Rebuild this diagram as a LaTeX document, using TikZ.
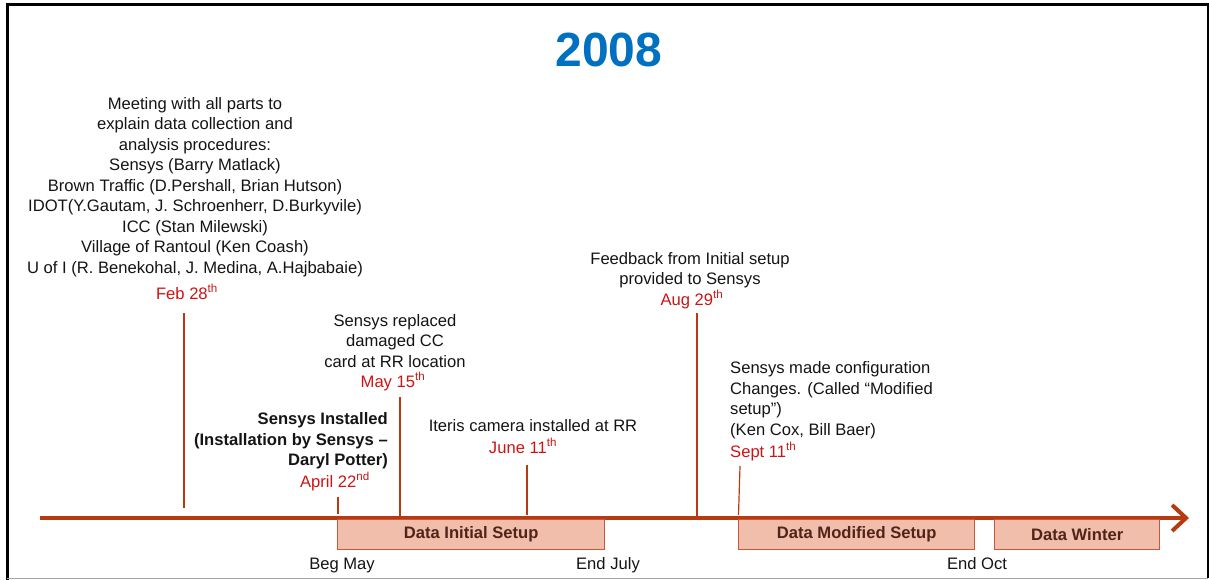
\documentclass[tikz,border=0pt]{standalone}
\usepackage{fontspec}
\setmainfont{Liberation Sans}
\usetikzlibrary{arrows.meta}
\definecolor{axiscol}{RGB}{184,58,16}
\definecolor{datered}{RGB}{204,20,20}
\definecolor{boxfill}{RGB}{242,190,172}
\definecolor{boxdraw}{RGB}{196,88,58}
\definecolor{boxtext}{RGB}{80,36,24}
\definecolor{titleblue}{RGB}{0,112,192}
\definecolor{txt}{RGB}{20,20,20}
\tikzset{
  body/.style={font=\fontsize{16.6}{20.5}\selectfont, text=txt, inner sep=0pt},
  datelbl/.style={font=\fontsize{16.6}{20.5}\selectfont, text=datered, inner sep=0pt},
  tickline/.style={draw=axiscol, line width=1.8pt},
  axisline/.style={draw=axiscol, line width=4pt},
  databox/.style={draw=boxdraw, fill=boxfill, line width=1.3pt, text=boxtext,
    font=\fontsize{16.6}{18}\selectfont\bfseries, minimum height=30pt, anchor=north west, inner sep=0pt},
}
\begin{document}
\begin{tikzpicture}[x=1pt,y=-1pt]
\useasboundingbox (0,0) rectangle (1209,580);
% frame
\draw[line width=3pt] (7,5) -- (7,580);
\draw[line width=3pt] (5.5,5) -- (1209,5);
\draw[line width=1.5pt] (1208,5) -- (1208,578);
\draw[gray!70, line width=1.5pt] (7,578.5) -- (1208,578.5);
% title
\node[font=\fontsize{48}{52}\selectfont\bfseries, text=titleblue, inner sep=0pt] (title) at (609,50) {2008};
% axis
\coordinate (axL) at (40,518);
\coordinate (axR) at (1189,518);
\draw[axisline, -{Straight Barb[length=14pt,width=26pt,line width=4pt]}] (axL) -- (axR);
% data boxes
\node[databox, minimum width=267pt] (b1) at (337,519) {Data Initial Setup};
\node[databox, minimum width=236pt] (b2) at (738,519) {Data Modified Setup};
\node[databox, minimum width=165pt] (b3) at (994,519) {Data Winter};
% bottom labels
\node[body, anchor=base] (begmay) at (342,569) {Beg May};
\node[body, anchor=base] (endjuly) at (608,569) {End July};
\node[body, anchor=base] (endoct) at (977,569) {End Oct};
% Feb 28
\node[body, align=center] (meet) at (195,187) {Meeting with all parts to\\explain data collection and\\analysis procedures:\\Sensys (Barry Matlack)\\Brown Traffic (D.Pershall, Brian Hutson)\\IDOT(Y.Gautam, J. Schroenherr,  D.Burkyvile)\\ICC (Stan Milewski)\\Village of Rantoul (Ken Coash)\\U of I (R. Benekohal, J. Medina, A.Hajbabaie)};
\node[datelbl, anchor=base] (feb) at (187,299) {Feb 28\textsuperscript{th}};
\coordinate (t1) at (184,313);
\coordinate (e1) at (184,508);
\draw[tickline] (t1) -- (e1);
% April 22
\node[body, align=right, font=\fontsize{16.6}{20.5}\selectfont\bfseries, anchor=east] (inst) at (388,441) {Sensys Installed\\(Installation by Sensys --\\Daryl Potter)};
\node[datelbl, anchor=base] (apr) at (335,487) {April 22\textsuperscript{nd}};
\coordinate (t2) at (338,497);
\coordinate (e2) at (338,514);
\draw[tickline] (t2) -- (e2);
% May 15
\node[body, align=center] (repl) at (395,341) {Sensys replaced\\damaged  CC\\card at RR location};
\node[datelbl, anchor=base] (may) at (393,387) {May 15\textsuperscript{th}};
\coordinate (t3) at (400,397);
\coordinate (e3) at (400,516);
\draw[tickline] (t3) -- (e3);
% June 11
\node[body, anchor=base] (iter) at (533,431) {Iteris camera installed at RR};
\node[datelbl, anchor=base] (jun) at (523,453) {June 11\textsuperscript{th}};
\coordinate (t4) at (527,465);
\coordinate (e4) at (527,515);
\draw[tickline] (t4) -- (e4);
% Aug 29
\node[body, align=center] (feed) at (690,270) {Feedback from Initial setup\\provided to Sensys};
\node[datelbl, anchor=base] (aug) at (692,305) {Aug 29\textsuperscript{th}};
\coordinate (t5) at (697,313);
\coordinate (e5) at (697,518);
\draw[tickline] (t5) -- (e5);
% Sept 11
\node[body, align=left, anchor=west] (conf) at (730,400) {Sensys made configuration\\Changes. (Called ``Modified\\setup'')\\(Ken Cox, Bill Baer)};
\node[datelbl, anchor=base west] (sep) at (730,457) {Sept 11\textsuperscript{th}};
\coordinate (t6) at (740,466);
\coordinate (e6) at (738.5,515);
\draw[tickline, line width=1.2pt] (t6) -- (e6);
\end{tikzpicture}
\end{document}
